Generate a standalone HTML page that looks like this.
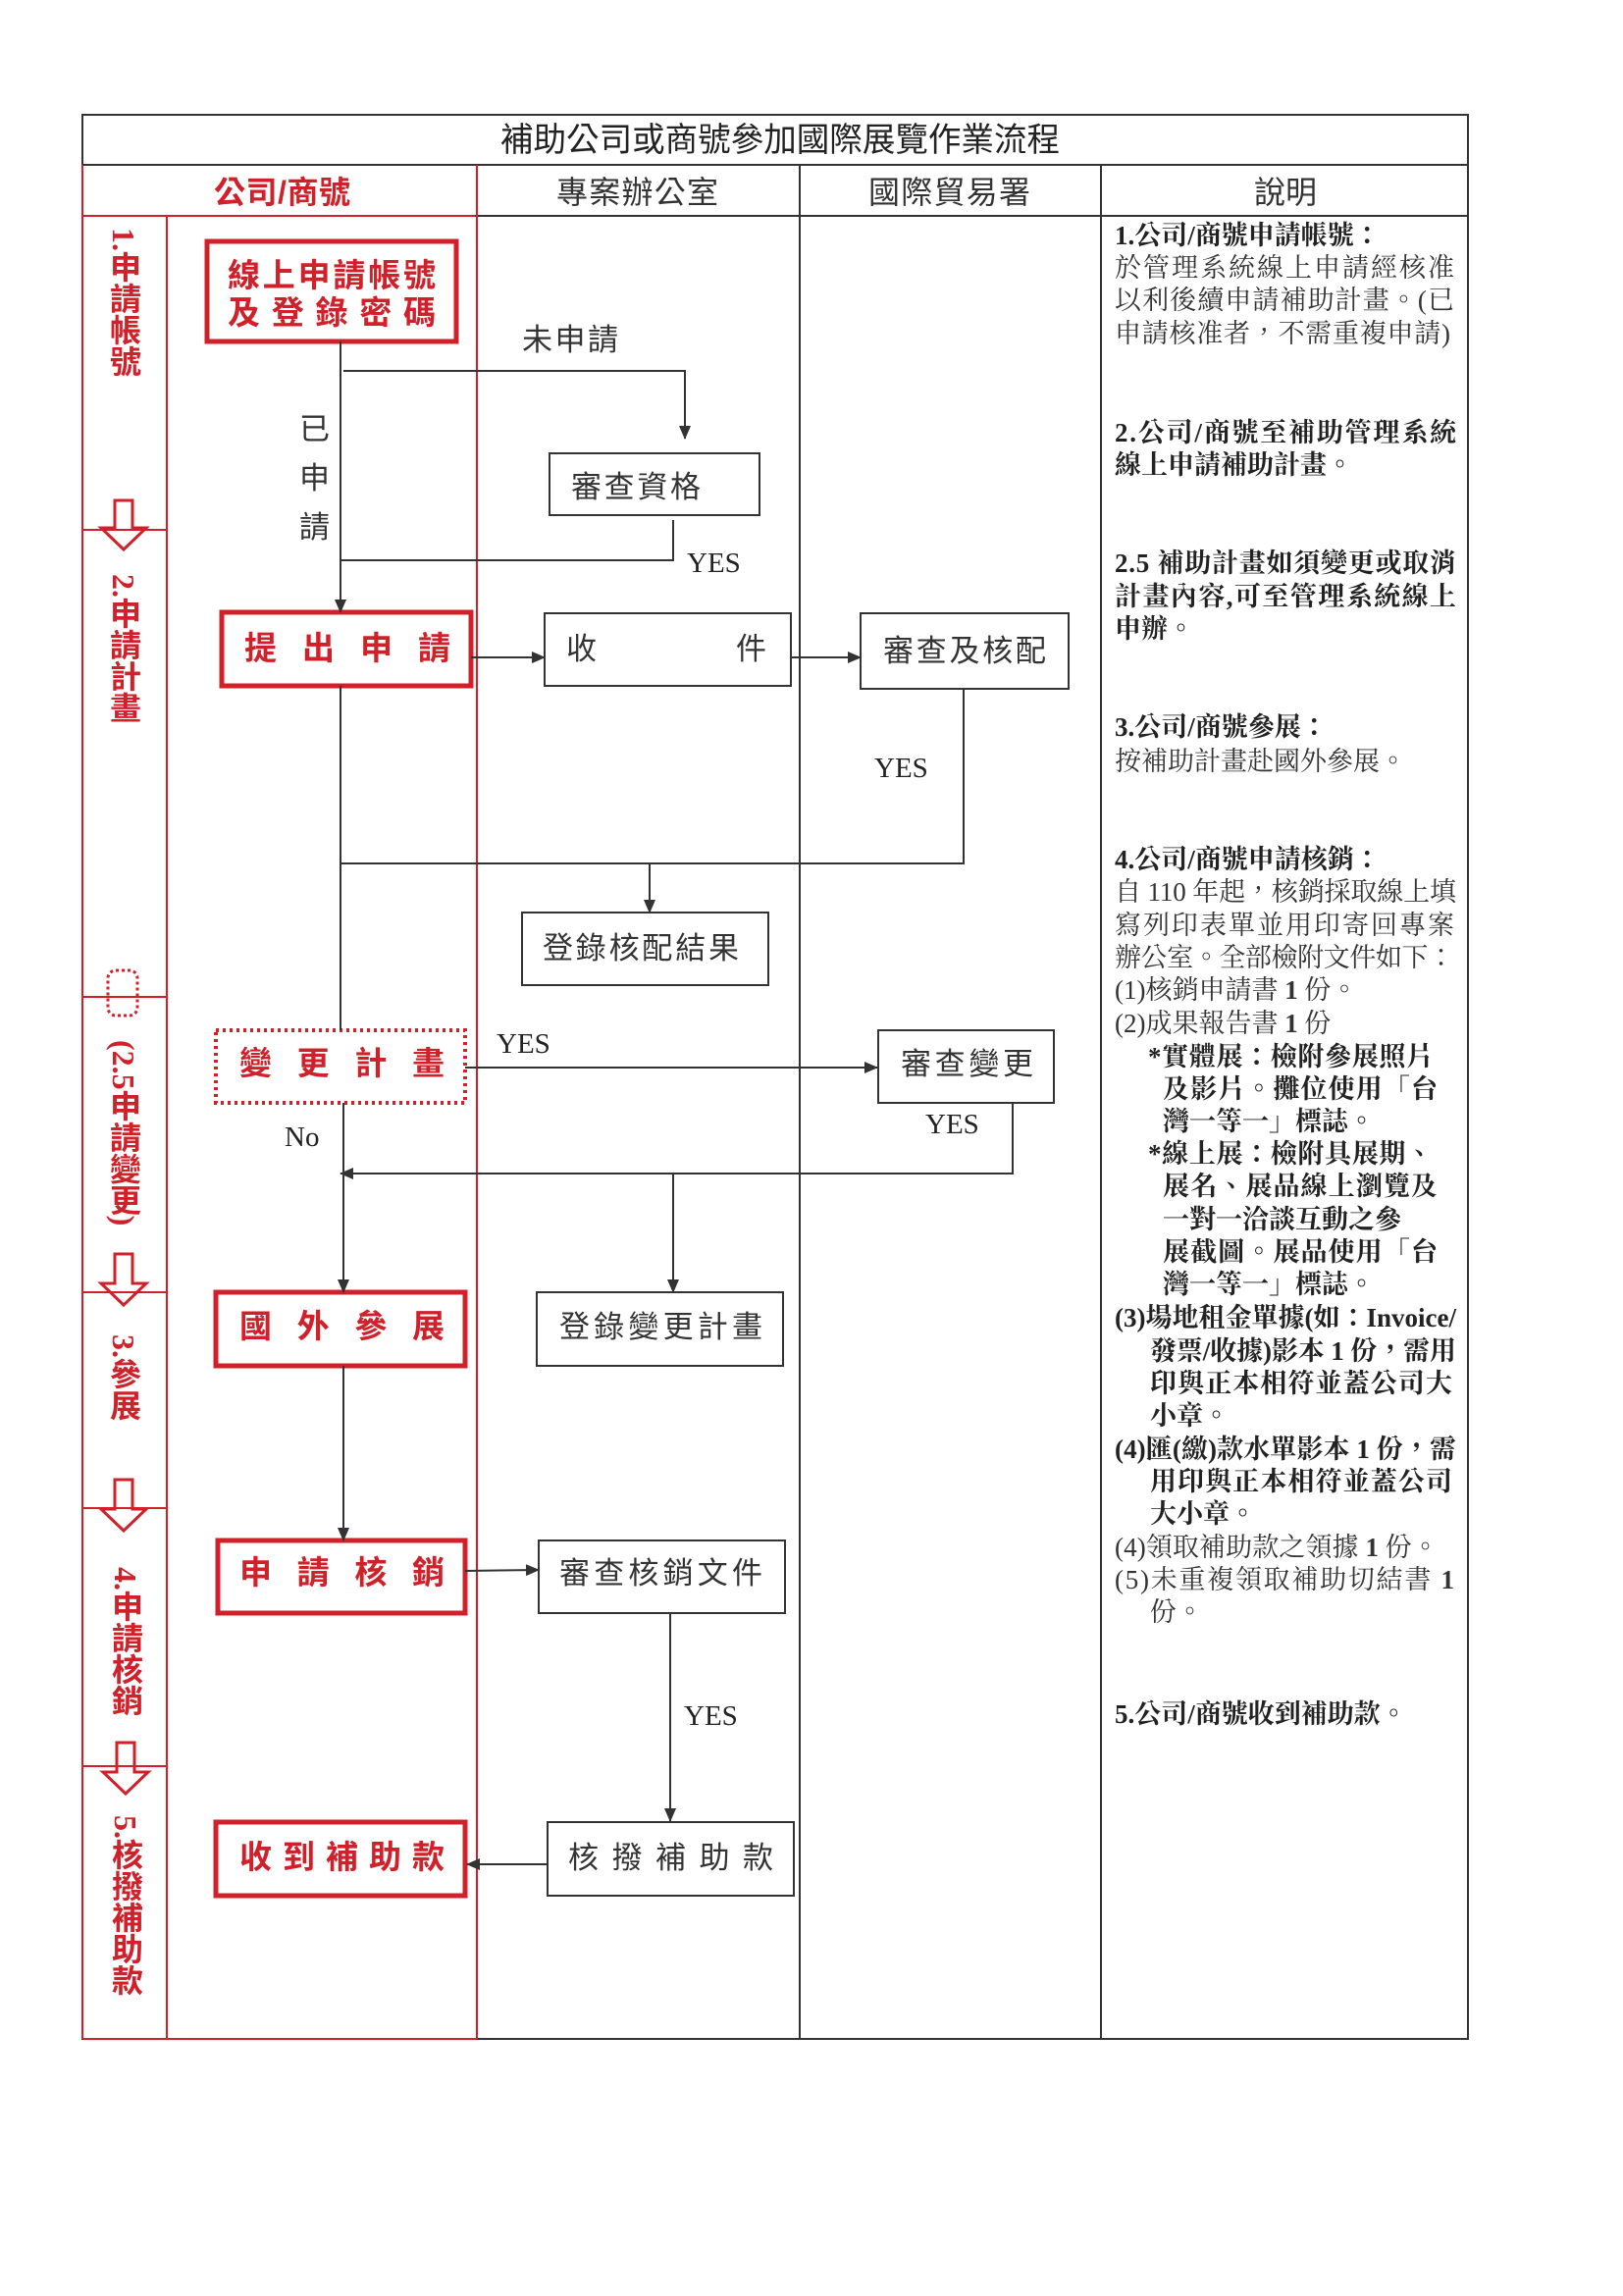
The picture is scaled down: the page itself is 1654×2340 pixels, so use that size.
<!DOCTYPE html>
<html><head><meta charset="utf-8"><style>
html,body{margin:0;padding:0;background:#fff;}
body{width:1654px;height:2340px;position:relative;overflow:hidden;}
svg{position:absolute;left:0;top:0;}
.v{position:absolute;writing-mode:vertical-rl;font-family:"Liberation Serif","Noto Sans CJK TC",serif;font-weight:bold;color:#d0202a;font-size:32px;line-height:32px;white-space:nowrap;}
</style></head><body>
<svg width="1654" height="2340" viewBox="0 0 1654 2340" xmlns="http://www.w3.org/2000/svg">
<defs>
<marker id="a" markerWidth="14" markerHeight="14" refX="13" refY="7" orient="auto" markerUnits="userSpaceOnUse" viewBox="0 0 14 14"><path d="M0,1 L14,7 L0,13 z" fill="#333"/></marker>
</defs>
<g fill="none" stroke-width="2">
<rect x="84" y="117" width="1412" height="1961" stroke="#333"/>
<line x1="84" y1="168" x2="1496" y2="168" stroke="#333"/>
<line x1="484" y1="220" x2="1496" y2="220" stroke="#333"/>
<line x1="84" y1="220" x2="484" y2="220" stroke="#d0202a"/>
<line x1="84" y1="168" x2="84" y2="2078" stroke="#d0202a"/>
<line x1="170" y1="220" x2="170" y2="2078" stroke="#d0202a"/>
<line x1="486" y1="168" x2="486" y2="2078" stroke="#d0202a"/>
<line x1="815" y1="168" x2="815" y2="2078" stroke="#333"/>
<line x1="1122" y1="168" x2="1122" y2="2078" stroke="#333"/>
<line x1="84" y1="2078" x2="486" y2="2078" stroke="#d0202a"/>
<g stroke="#d0202a">
<line x1="84" y1="540" x2="170" y2="540"/>
<line x1="84" y1="1016" x2="170" y2="1016"/>
<line x1="84" y1="1317" x2="170" y2="1317"/>
<line x1="84" y1="1537" x2="170" y2="1537"/>
<line x1="84" y1="1800" x2="170" y2="1800"/>
<path d="M117,510 h18 v28 h14 l-23,22 l-23,-22 h14 z" stroke-width="3"/>
<path d="M117,1278 h18 v30 h14 l-23,22 l-23,-22 h14 z" stroke-width="3"/>
<path d="M117,1508 h18 v30 h14 l-23,22 l-23,-22 h14 z" stroke-width="3"/>
<path d="M119,1776 h18 v30 h14 l-23,22 l-23,-22 h14 z" stroke-width="3"/>
<rect x="110" y="989" width="30" height="46" rx="8" stroke-dasharray="3,3" stroke-width="3"/>
</g>
<rect x="211" y="246" width="254" height="102" stroke="#d0202a" stroke-width="5"/>
<rect x="560" y="462" width="214" height="63" stroke="#333"/>
<rect x="226" y="624" width="254" height="75" stroke="#d0202a" stroke-width="5"/>
<rect x="555" y="625" width="251" height="74" stroke="#333"/>
<rect x="877" y="625" width="212" height="77" stroke="#333"/>
<rect x="532" y="930" width="251" height="74" stroke="#333"/>
<rect x="220" y="1050" width="254" height="74" stroke="#d0202a" stroke-width="4" stroke-dasharray="3,4"/>
<rect x="895" y="1050" width="179" height="74" stroke="#333"/>
<rect x="220" y="1317" width="254" height="75" stroke="#d0202a" stroke-width="5"/>
<rect x="547" y="1317" width="251" height="75" stroke="#333"/>
<rect x="222" y="1570" width="252" height="74" stroke="#d0202a" stroke-width="5"/>
<rect x="549" y="1570" width="251" height="74" stroke="#333"/>
<rect x="558" y="1857" width="251" height="75" stroke="#333"/>
<rect x="220" y="1857" width="254" height="75" stroke="#d0202a" stroke-width="5"/>
<g stroke="#333" stroke-width="2">
<line x1="347" y1="348" x2="347" y2="624" marker-end="url(#a)"/>
<polyline points="350,378 698,378 698,447" marker-end="url(#a)"/>
<polyline points="686,530 686,571 347,571"/>
<line x1="480" y1="670" x2="555" y2="670" marker-end="url(#a)"/>
<line x1="806" y1="670" x2="877" y2="670" marker-end="url(#a)"/>
<line x1="347" y1="699" x2="347" y2="1050"/>
<polyline points="982,702 982,880 347,880"/>
<line x1="662" y1="880" x2="662" y2="930" marker-end="url(#a)"/>
<line x1="474" y1="1088" x2="894" y2="1088" marker-end="url(#a)"/>
<polyline points="1032,1124 1032,1196 347,1196" marker-end="url(#a)"/>
<line x1="350" y1="1124" x2="350" y2="1317" marker-end="url(#a)"/>
<line x1="686" y1="1196" x2="686" y2="1317" marker-end="url(#a)"/>
<line x1="350" y1="1392" x2="350" y2="1570" marker-end="url(#a)"/>
<line x1="474" y1="1601" x2="549" y2="1600" marker-end="url(#a)"/>
<line x1="683" y1="1644" x2="683" y2="1856" marker-end="url(#a)"/>
<line x1="558" y1="1900" x2="476" y2="1900" marker-end="url(#a)"/>
</g>
</g>
<g font-family="'Liberation Sans','Noto Sans CJK TC',sans-serif">
<text x="510" y="154" font-size="34" fill="#222" textLength="570" lengthAdjust="spacingAndGlyphs">補助公司或商號參加國際展覽作業流程</text>
<text x="218" y="207" font-size="32" fill="#d0202a" font-weight="bold" textLength="139">公司/商號</text>
<text x="567" y="207" font-size="32" fill="#333" textLength="165">專案辦公室</text>
<text x="885" y="207" font-size="32" fill="#333" textLength="165">國際貿易署</text>
<text x="1278" y="207" font-size="32" fill="#333" textLength="64">說明</text>
</g>
<g font-family="'Liberation Sans','Noto Sans CJK TC',sans-serif" font-size="33" fill="#d0202a" font-weight="bold">
<text x="232" y="292" textLength="212">線上申請帳號</text>
<text x="232" y="330" textLength="212">及登錄密碼</text>
<text x="249" y="672" textLength="210">提出申請</text>
<text x="244" y="1095" textLength="209">變更計畫</text>
<text x="244" y="1363" textLength="209">國外參展</text>
<text x="244" y="1614" textLength="209">申請核銷</text>
<text x="244" y="1904" textLength="209">收到補助款</text>
</g>
<g font-family="'Liberation Sans','Noto Sans CJK TC',sans-serif" font-size="31" fill="#333">
<text x="582" y="507" textLength="132">審查資格</text>
<text x="577" y="672">收</text>
<text x="750" y="672">件</text>
<text x="900" y="674" textLength="166">審查及核配</text>
<text x="553" y="977" textLength="200">登錄核配結果</text>
<text x="918" y="1095" textLength="135">審查變更</text>
<text x="570" y="1363" textLength="207">登錄變更計畫</text>
<text x="570" y="1614" textLength="207">審查核銷文件</text>
<text x="579" y="1904" textLength="209">核撥補助款</text>
<text x="532" y="357" textLength="98">未申請</text>
<text x="305" y="448">已</text>
<text x="305" y="498">申</text>
<text x="305" y="548">請</text>
</g>
<g font-family="'Liberation Serif',serif" font-size="29" fill="#222">
<text x="700" y="583">YES</text>
<text x="891" y="792">YES</text>
<text x="506" y="1073">YES</text>
<text x="943" y="1155">YES</text>
<text x="290" y="1168">No</text>
<text x="697" y="1758">YES</text>
</g>
<g font-family="'Liberation Serif','Noto Serif CJK TC','Noto Sans CJK TC',serif" font-size="27" fill="#333">
<text x="1136" y="249" font-weight="bold" fill="#222">1.公司/商號申請帳號：</text>
<text x="1136" y="282" textLength="346">於管理系統線上申請經核准</text>
<text x="1136" y="315" textLength="346">以利後續申請補助計畫。(已</text>
<text x="1136" y="349" textLength="342">申請核准者，不需重複申請)</text>
<text x="1136" y="450" font-weight="bold" fill="#222" textLength="348">2.公司/商號至補助管理系統</text>
<text x="1136" y="483" font-weight="bold" fill="#222">線上申請補助計畫。</text>
<text x="1136" y="583" font-weight="bold" fill="#222" textLength="348">2.5 補助計畫如須變更或取消</text>
<text x="1136" y="617" font-weight="bold" fill="#222" textLength="348">計畫內容,可至管理系統線上</text>
<text x="1136" y="650" font-weight="bold" fill="#222">申辦。</text>
<text x="1136" y="750" font-weight="bold" fill="#222">3.公司/商號參展：</text>
<text x="1136" y="785">按補助計畫赴國外參展。</text>
<text x="1136" y="885" font-weight="bold" fill="#222">4.公司/商號申請核銷：</text>
<text x="1136" y="918" textLength="348">自 110 年起，核銷採取線上填</text>
<text x="1136" y="952" textLength="346">寫列印表單並用印寄回專案</text>
<text x="1136" y="985" textLength="346">辦公室。全部檢附文件如下：</text>
<text x="1136" y="1018">(1)核銷申請書 <tspan font-weight="bold">1</tspan> 份。</text>
<text x="1136" y="1052">(2)成果報告書 <tspan font-weight="bold">1</tspan> 份</text>
<g font-weight="bold" fill="#222">
<text x="1170" y="1086" textLength="290">*實體展：檢附參展照片</text>
<text x="1185" y="1119" textLength="280">及影片。攤位使用「台</text>
<text x="1185" y="1152">灣一等一」標誌。</text>
<text x="1170" y="1185" textLength="290">*線上展：檢附具展期、</text>
<text x="1185" y="1218" textLength="280">展名、展品線上瀏覽及</text>
<text x="1185" y="1252">一對一洽談互動之參</text>
<text x="1185" y="1285" textLength="280">展截圖。展品使用「台</text>
<text x="1185" y="1318">灣一等一」標誌。</text>
<text x="1136" y="1352" textLength="348">(3)場地租金單據(如：Invoice/</text>
<text x="1172" y="1386" textLength="312">發票/收據)影本 1 份，需用</text>
<text x="1172" y="1419" textLength="308">印與正本相符並蓋公司大</text>
<text x="1172" y="1452">小章。</text>
<text x="1136" y="1486" textLength="348">(4)匯(繳)款水單影本 1 份，需</text>
<text x="1172" y="1519" textLength="308">用印與正本相符並蓋公司</text>
<text x="1172" y="1552">大小章。</text>
</g>
<text x="1136" y="1586" textLength="330">(4)領取補助款之領據 <tspan font-weight="bold">1</tspan> 份。</text>
<text x="1136" y="1619" textLength="346">(5)未重複領取補助切結書 <tspan font-weight="bold">1</tspan></text>
<text x="1172" y="1652">份。</text>
<text x="1136" y="1756" font-weight="bold" fill="#222">5.公司/商號收到補助款。</text>
</g>
</svg>
<div class="v" style="left:110px;top:232px;">1.申請帳號</div>
<div class="v" style="left:110px;top:585px;">2.申請計畫</div>
<div class="v" style="left:110px;top:1060px;">(2.5申請變更)</div>
<div class="v" style="left:110px;top:1360px;">3.參展</div>
<div class="v" style="left:112px;top:1597px;">4.申請核銷</div>
<div class="v" style="left:112px;top:1850px;">5.核撥補助款</div>
</body></html>
